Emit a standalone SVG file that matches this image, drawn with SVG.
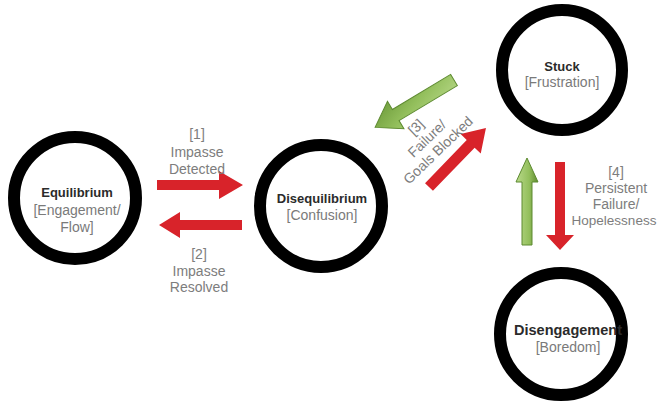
<svg xmlns="http://www.w3.org/2000/svg" width="657" height="404" viewBox="0 0 657 404">
<defs>
<linearGradient id="gGreen" x1="0" y1="0" x2="1" y2="1">
<stop offset="0" stop-color="#b9d98a"/>
<stop offset="0.5" stop-color="#93bf5c"/>
<stop offset="1" stop-color="#6a9838"/>
</linearGradient>
<linearGradient id="gGreenV" x1="0" y1="0" x2="1" y2="0">
<stop offset="0" stop-color="#b9d98a"/>
<stop offset="0.6" stop-color="#93bf5c"/>
<stop offset="1" stop-color="#5f8a31"/>
</linearGradient>
</defs>
<style>
.ring{fill:#fff;stroke:#000;stroke-width:12}
.title{font-family:"Liberation Sans",Arial,sans-serif;font-weight:bold;font-size:13px;fill:#2b2b2b;text-anchor:middle}
.sub{font-family:"Liberation Sans",Arial,sans-serif;font-size:14px;fill:#7a7a7a;text-anchor:middle}
.lbl{font-family:"Liberation Sans",Arial,sans-serif;font-size:14px;fill:#7d7d7d;text-anchor:middle}
.red{fill:#d8232a}
.green{fill:url(#gGreen);stroke:#5d8a30;stroke-width:1}
.greenv{fill:url(#gGreenV);stroke:#5d8a30;stroke-width:1}
</style>
<rect width="657" height="404" fill="#fff"/>

<g id="connectors">
<polygon class="red" points="157,180 219,180 219,171 243,185 219,199 219,190 157,190"/>
<polygon class="red" points="242,220 180,220 180,212 159,225 180,238 180,230 242,230"/>
<polygon class="green" transform="translate(454,80) rotate(149)" points="0,-6.5 68,-6.5 68,-16 92,0 68,16 68,6.5 0,6.5"/>
<polygon class="red" transform="translate(429,187) rotate(-46)" points="0,-5.5 60,-5.5 60,-14 82,0 60,14 60,5.5 0,5.5"/>
<polygon class="greenv" points="522,245 532,245 532,182 538,182 527,158 516,182 522,182"/>
<polygon class="red" points="555,162 565,162 565,235 574,235 560,250 546,235 555,235"/>
<g id="label1">
<text class="lbl" x="197" y="139">[1]</text>
<text class="lbl" x="197" y="157">Impasse</text>
<text class="lbl" x="197" y="174">Detected</text>
</g>
<g id="label2">
<text class="lbl" x="199" y="259">[2]</text>
<text class="lbl" x="199" y="276">Impasse</text>
<text class="lbl" x="199" y="292">Resolved</text>
</g>
<g id="label3" transform="translate(438,150) rotate(-44)">
<text class="lbl" x="0" y="-27">[3]</text>
<text class="lbl" x="0" y="-11">Failure/</text>
<text class="lbl" x="0" y="5">Goals Blocked</text>
</g>
<g id="label4">
<text class="lbl" x="616" y="177">[4]</text>
<text class="lbl" x="616" y="193">Persistent</text>
<text class="lbl" x="616" y="209">Failure/</text>
<text class="lbl" x="614" y="225" style="font-size:13.5px">Hopelessness</text>
</g>
</g>

<g id="equilibrium">
<circle class="ring" cx="75" cy="198" r="61"/>
<text class="title" x="77" y="197">Equilibrium</text>
<text class="sub" x="77" y="215">[Engagement/</text>
<text class="sub" x="77" y="232">Flow]</text>
</g>
<g id="disequilibrium">
<circle class="ring" cx="321" cy="206" r="61"/>
<text class="title" x="322" y="203">Disequilibrium</text>
<text class="sub" x="322" y="220">[Confusion]</text>
</g>
<g id="stuck">
<circle class="ring" cx="562" cy="70" r="60"/>
<text class="title" x="562" y="71">Stuck</text>
<text class="sub" x="562" y="87">[Frustration]</text>
</g>
<g id="disengagement">
<circle class="ring" cx="561" cy="334" r="61"/>
<text class="title" x="568" y="335" style="font-size:14.5px">Disengagement</text>
<text class="sub" x="568" y="352">[Boredom]</text>
</g>
</svg>
